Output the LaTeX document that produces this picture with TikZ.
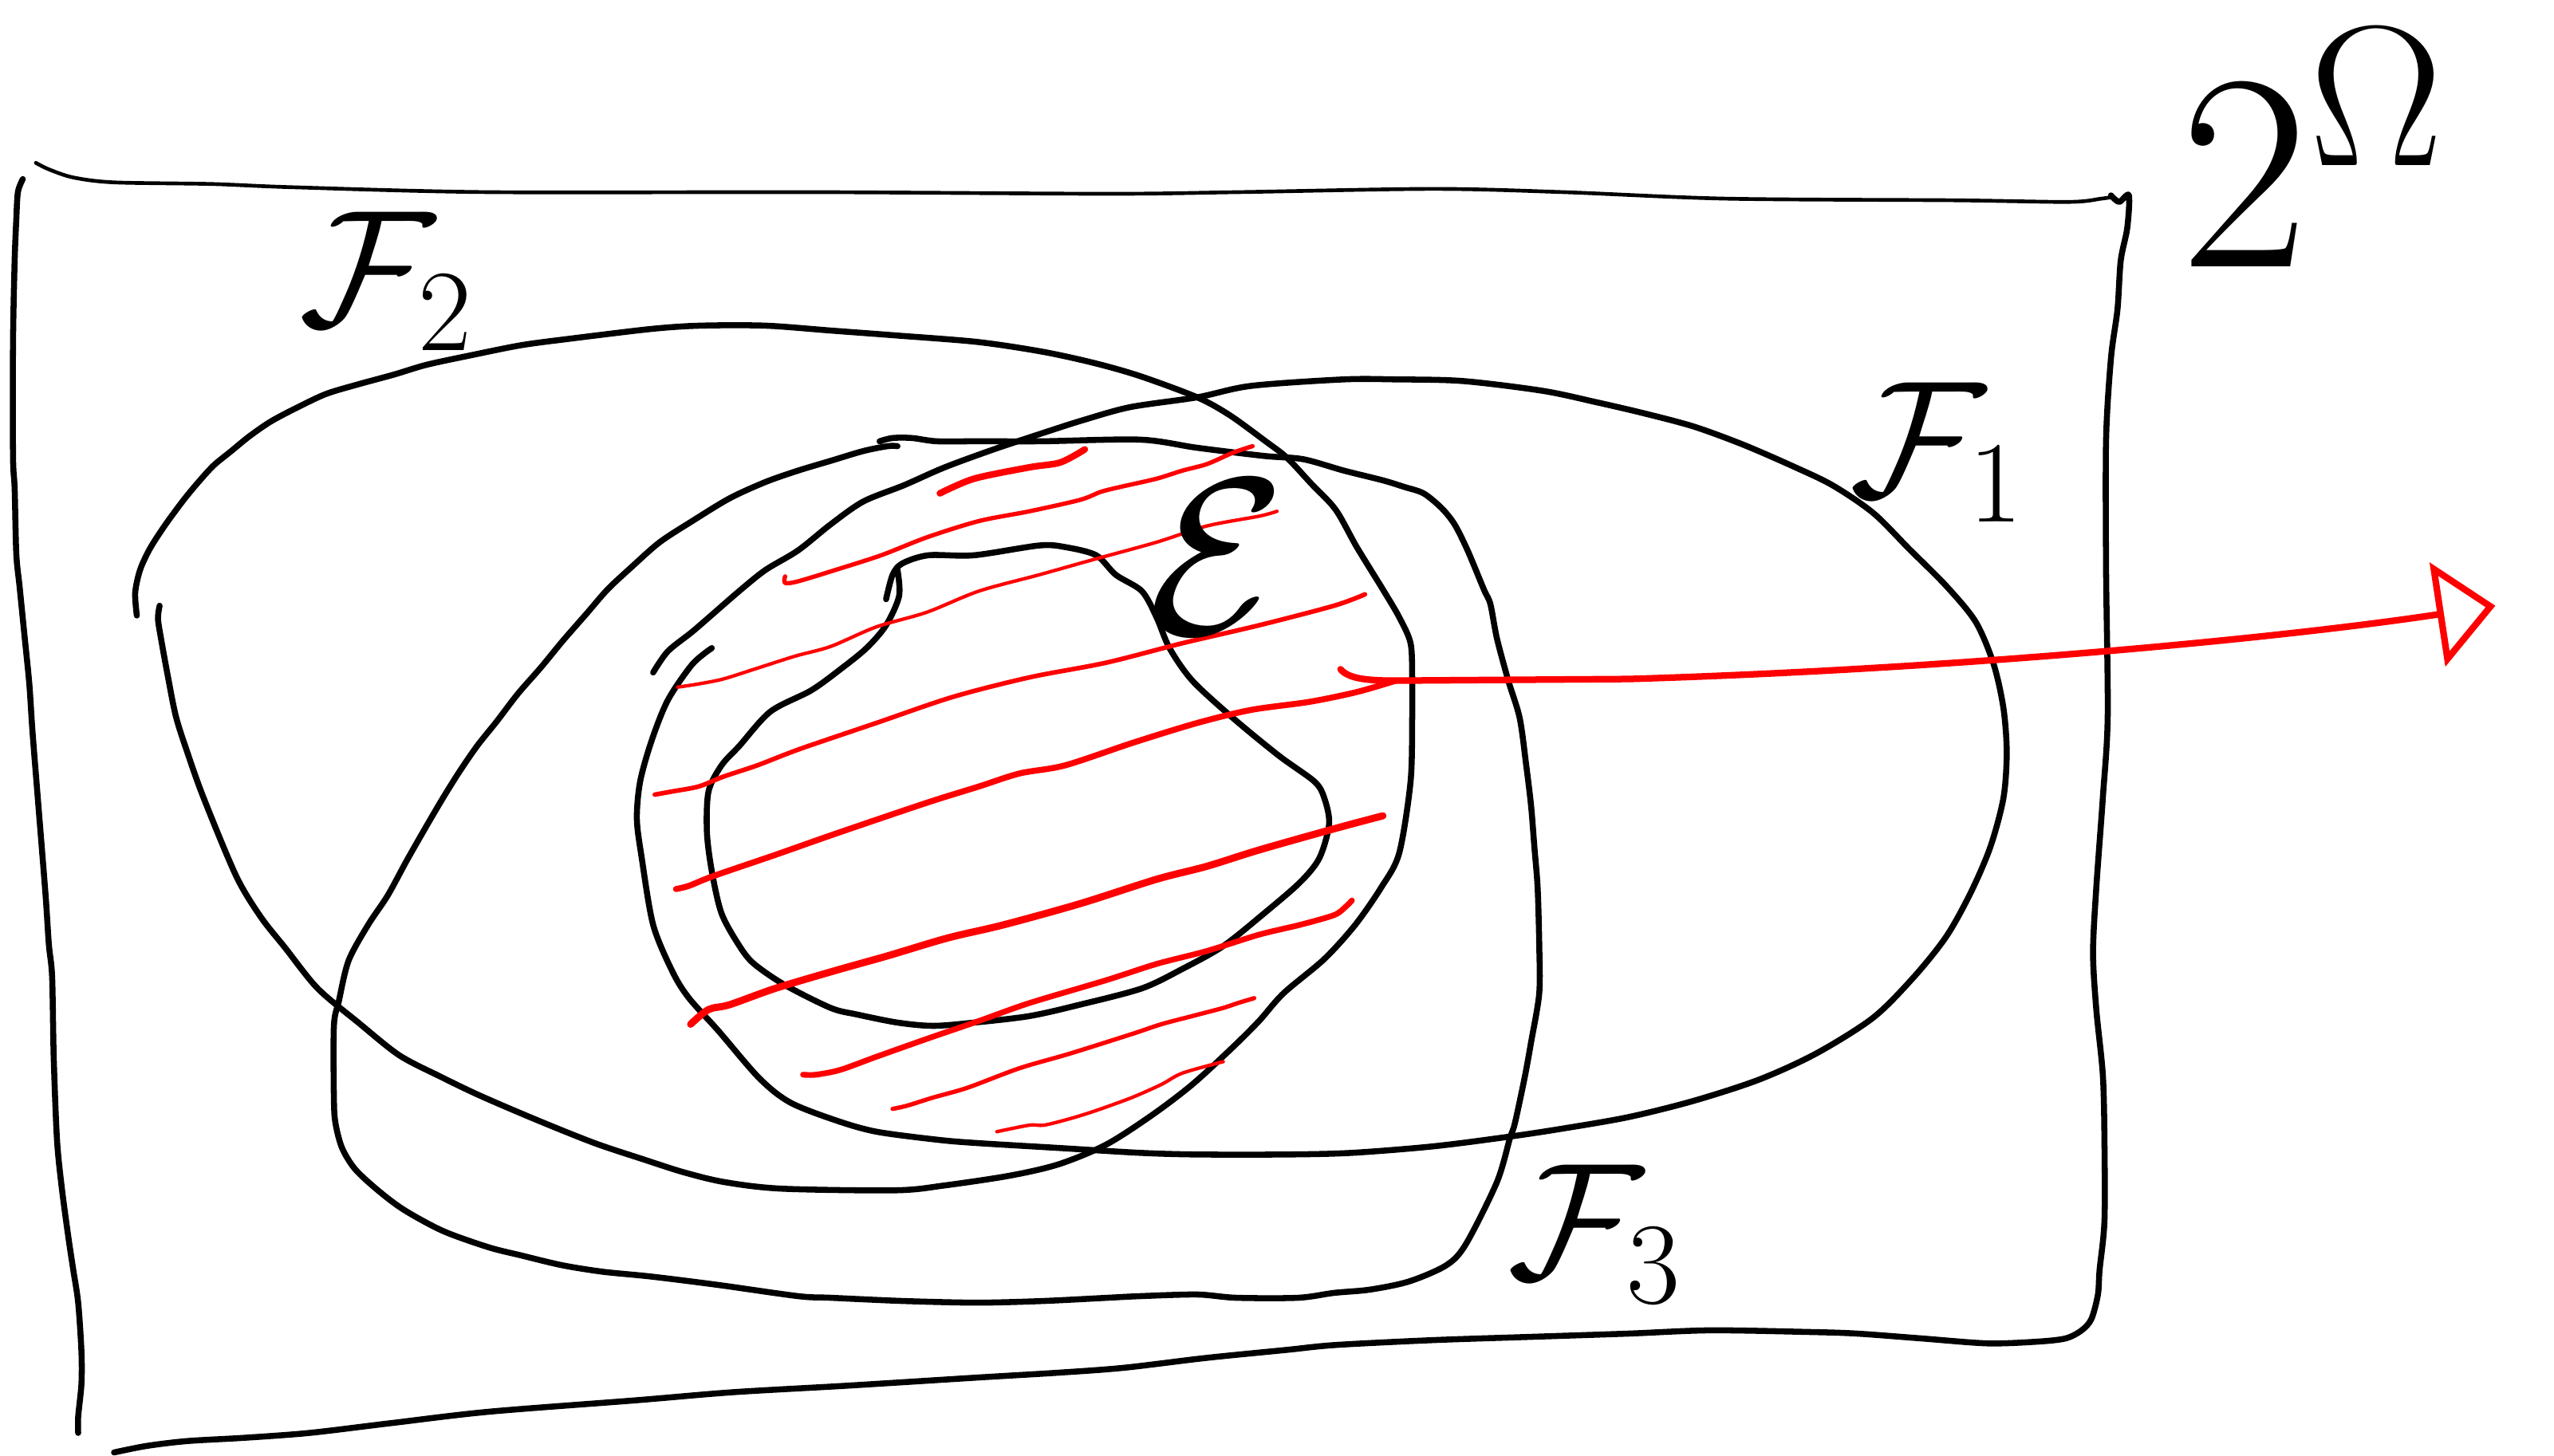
\documentclass[tikz,border=0pt]{standalone}
\usepackage{fix-cm}
\usepackage{xcolor}
\usepackage{tikz}
\usetikzlibrary{arrows.meta}
\definecolor{marker}{HTML}{FF0000}

\begin{document}
\begin{tikzpicture}[x=0.1mm, y=-0.1mm,
    ink/.style={line width=1.05pt, line cap=round, line join=round},
    thinink/.style={line width=0.65pt, line cap=round, line join=round},
    hatch/.style={draw=marker, line width=#1, line cap=round, line join=round},
    hatch/.default=0.9pt,
    famname/.style={inner sep=0pt, anchor=base west, font=\fontsize{29}{30}\selectfont}]
    \useasboundingbox (0,0) rectangle (1568,894);

    % frame of 2^Omega
    \draw[thinink] plot[smooth, tension=0.5] coordinates {(22,100) (30,104) (45,109) (70,112) (130,113)
      (180,115) (300,118) (500,118) (680,119) (760,118) (880,116) (960,118) (1060,122) (1200,123)
      (1270,124) (1290,122) (1297,121)};
    \draw[ink] plot[smooth, tension=0.5] coordinates {(14,110) (11,118) (10,135) (9,160) (8,210) (8,280)
      (9,300) (10,340) (12,360) (15,390) (18,420) (20,450) (24,500) (28,550) (30,580) (32,600) (33,650)
      (35,700) (38,730) (42,760) (45,780) (48,800) (50,830) (50,850) (48,870) (48,880)};
    \draw[ink] plot[smooth, tension=0.5] coordinates {(1296,120) (1301,124) (1307,120) (1306,140) (1302,160)
      (1300,190) (1296,220) (1293,270) (1293,350) (1294,440) (1291,490) (1287,545) (1285,585) (1287,620)
      (1291,660) (1292,700) (1292,750) (1289,780) (1288,795) (1284,810) (1278,817) (1268,822) (1250,824)
      (1220,825) (1180,822) (1140,819) (1110,818) (1050,817) (1000,819) (940,821) (880,823) (820,826)
      (790,829) (740,834) (690,840) (650,843) (600,846) (520,851) (450,855) (390,860) (300,867) (240,874)
      (190,880) (150,883) (115,885) (90,888) (70,892)};

    % F_2
    \draw[ink] plot[smooth, tension=0.5] coordinates {(84,378) (83,364) (86,350) (92,337) (101,323) (112,308)
      (121,297) (131,286) (142,277) (153,268) (166,259) (181,251) (200,242) (220,236) (242,230) (262,224)
      (290,218) (320,212) (350,208) (400,202) (430,200) (470,200) (510,203) (550,206) (600,210) (640,216)
      (672,223) (700,231) (735,244) (755,255) (777,271) (790,281) (805,297) (820,313) (833,336) (849,362)
      (859,379) (866,395) (867,416) (867,441) (866,480) (859,524) (848,545) (832,568) (813,589) (788,610)
      (773,627) (757,643) (732,666) (707,685) (679,703) (650,715) (620,722) (580,728) (550,731) (480,730)
      (445,726) (420,720) (395,712) (365,702) (330,688) (295,673) (270,661) (245,648) (220,628) (195,607)
      (175,582) (160,563) (145,538) (125,490) (115,462) (108,440) (103,415) (99,393) (97,380) (98,372)};

    % F_1
    \draw[ink] plot[smooth, tension=0.5] coordinates {(401,413) (410,400) (425,388) (440,375) (455,362)
      (470,350) (490,338) (510,322) (530,308) (555,298) (580,287) (610,276) (640,266) (665,258) (694,250)
      (735,244) (768,237) (825,233) (857,233) (898,234) (947,240) (980,247) (1010,254) (1040,262)
      (1070,273) (1100,286) (1125,298) (1150,315) (1172,337) (1195,360) (1213,382) (1224,408) (1230,435)
      (1232,462) (1230,490) (1222,520) (1210,548) (1195,575) (1175,600) (1150,625) (1115,647) (1080,663)
      (1040,676) (1000,686) (960,693) (927,698) (880,704) (830,708) (790,709) (735,709) (700,708) (650,705)
      (600,702) (576,700) (538,695) (513,688) (485,677) (466,662) (441,633) (423,613) (413,597) (401,568)
      (394,527) (391,503) (393,480) (400,455) (410,430) (425,408) (437,398)};

    % F_3
    \draw[ink] plot[smooth, tension=0.5] coordinates {(540,271) (548,269) (560,269) (575,271) (600,271)
      (640,271) (700,270) (735,275) (776,280) (800,282) (825,289) (849,295)
      (862,299) (874,303) (885,312) (893,322) (901,338) (911,362) (915,371) (919,392) (926,418) (933,441)
      (937,470) (940,495) (942,520) (944,545) (945,580) (945,610) (940,640) (936,662) (930,690) (927,699)
      (919,726) (900,764) (888,777) (865,787) (841,792) (819,794) (797,797) (759,797) (735,795) (700,796)
      (680,797) (640,799) (600,800) (555,799) (510,797) (490,796) (440,789) (400,784) (370,781) (345,777)
      (320,771) (300,766) (272,756) (248,743) (232,731) (218,718) (210,705) (206,690) (205,675) (205,630)
      (208,615) (214,590) (226,568) (238,550) (250,528) (262,507) (272,490) (282,474) (293,458) (305,443)
      (318,426) (332,410) (346,393) (360,377) (373,362) (388,348) (405,333) (425,320) (448,306) (470,296)
      (490,289) (510,283) (530,277) (545,274) (551,274)};

    % inner set
    \draw[ink] plot[smooth, tension=0.5] coordinates {(551,350) (552,366) (544,384) (532,398) (516,411)
      (498,424) (473,437) (454,458) (443,470) (435,486) (434,511) (437,535) (443,561) (454,581) (463,592)
      (482,605) (510,619) (526,623) (551,628) (573,630) (598,628) (632,624) (663,617) (701,607) (726,595)
      (751,581) (776,561) (798,542) (810,527) (816,506) (813,490) (807,480) (785,464) (757,441) (732,418)
      (718,398) (710,379) (701,363) (685,353) (673,341) (654,336) (638,335) (598,341) (570,341) (554,346)
      (548,353) (544,368)};

    % hatching
    \draw[hatch=1.15pt] plot[smooth, tension=0.5] coordinates {(577,303) (598,294) (632,287) (651,284) (666,276)};
    \draw[hatch=0.75pt] plot[smooth, tension=0.5] coordinates {(482,354) (482,358) (490,357) (513,350) (541,341)
      (569,330) (601,320) (632,314) (663,307) (676,302) (688,299) (710,294) (726,289) (741,285) (757,278) (769,274)};
    \draw[hatch=0.6pt] plot[smooth, tension=0.5] coordinates {(416,422) (429,420) (444,417) (463,411) (488,403)
      (510,397) (538,385) (569,376) (601,363) (638,353) (670,344) (710,333) (741,323) (773,317) (784,314)};
    \draw[hatch=0.8pt] plot[smooth, tension=0.5] coordinates {(402,488) (413,486) (429,483) (444,477) (465,470)
      (491,460) (538,444) (585,428) (632,416) (679,407) (726,395) (773,384) (819,372) (838,365)};
    \draw[hatch=1.05pt] plot[smooth, tension=0.5] coordinates {(415,546) (423,544) (438,538) (476,525) (513,512)
      (569,493) (601,483) (626,475) (654,470) (696,456) (735,444) (768,436) (804,431) (833,425) (857,418)};
    \draw[hatch=1.25pt] plot[smooth, tension=0.5] coordinates {(424,629) (435,620) (448,617) (476,607) (513,596)
      (545,587) (582,576) (616,568) (663,555) (710,540) (741,532) (773,522) (819,509) (849,501)};
    \draw[hatch=1pt] plot[smooth, tension=0.5] coordinates {(493,660) (501,660) (516,657) (538,649) (569,638)
      (601,627) (632,616) (679,602) (710,592) (741,584) (773,574) (798,568) (819,562) (826,557) (830,553)};
    \draw[hatch=0.75pt] plot[smooth, tension=0.5] coordinates {(548,681) (557,679) (573,674) (594,668) (626,656)
      (657,647) (695,635) (713,629) (732,624) (751,619) (760,616) (770,613)};
    \draw[hatch=0.6pt] plot[smooth, tension=0.5] coordinates {(612,695) (632,691) (641,691) (657,687) (673,682)
      (695,674) (713,666) (726,659) (751,652)};

    % arrow out of the hatched part
    \coordinate (arrowstart) at (823,411);
    \coordinate (arrowtip) at (1532,372);
    \draw[hatch=1.15pt, -{Triangle[open, length=3.6mm, width=6.4mm, line width=1.15pt]}]
      (arrowstart) .. controls (828,417) and (840,418) .. (857,418) -- (1000,417)
      .. controls (1200,411) and (1400,392) .. (arrowtip);

    % names
    \node[famname] (ftwo) at (183,200) {$\mathcal{F}_2$};
    \node[famname] (fone) at (1135,305) {$\mathcal{F}_1$};
    \node[famname] (fthree) at (925,785) {$\mathcal{F}_3$};
    \node[famname, anchor=center, font=\fontsize{39}{40}\selectfont] (elabel) at (747,342) {$\mathcal{E}$};
    \node[famname, font=\fontsize{49}{50}\selectfont] (powerset) at (1338,164)
      {$2^{\mbox{\fontsize{35}{36}\selectfont$\Omega$}}$};
\end{tikzpicture}
\end{document}
